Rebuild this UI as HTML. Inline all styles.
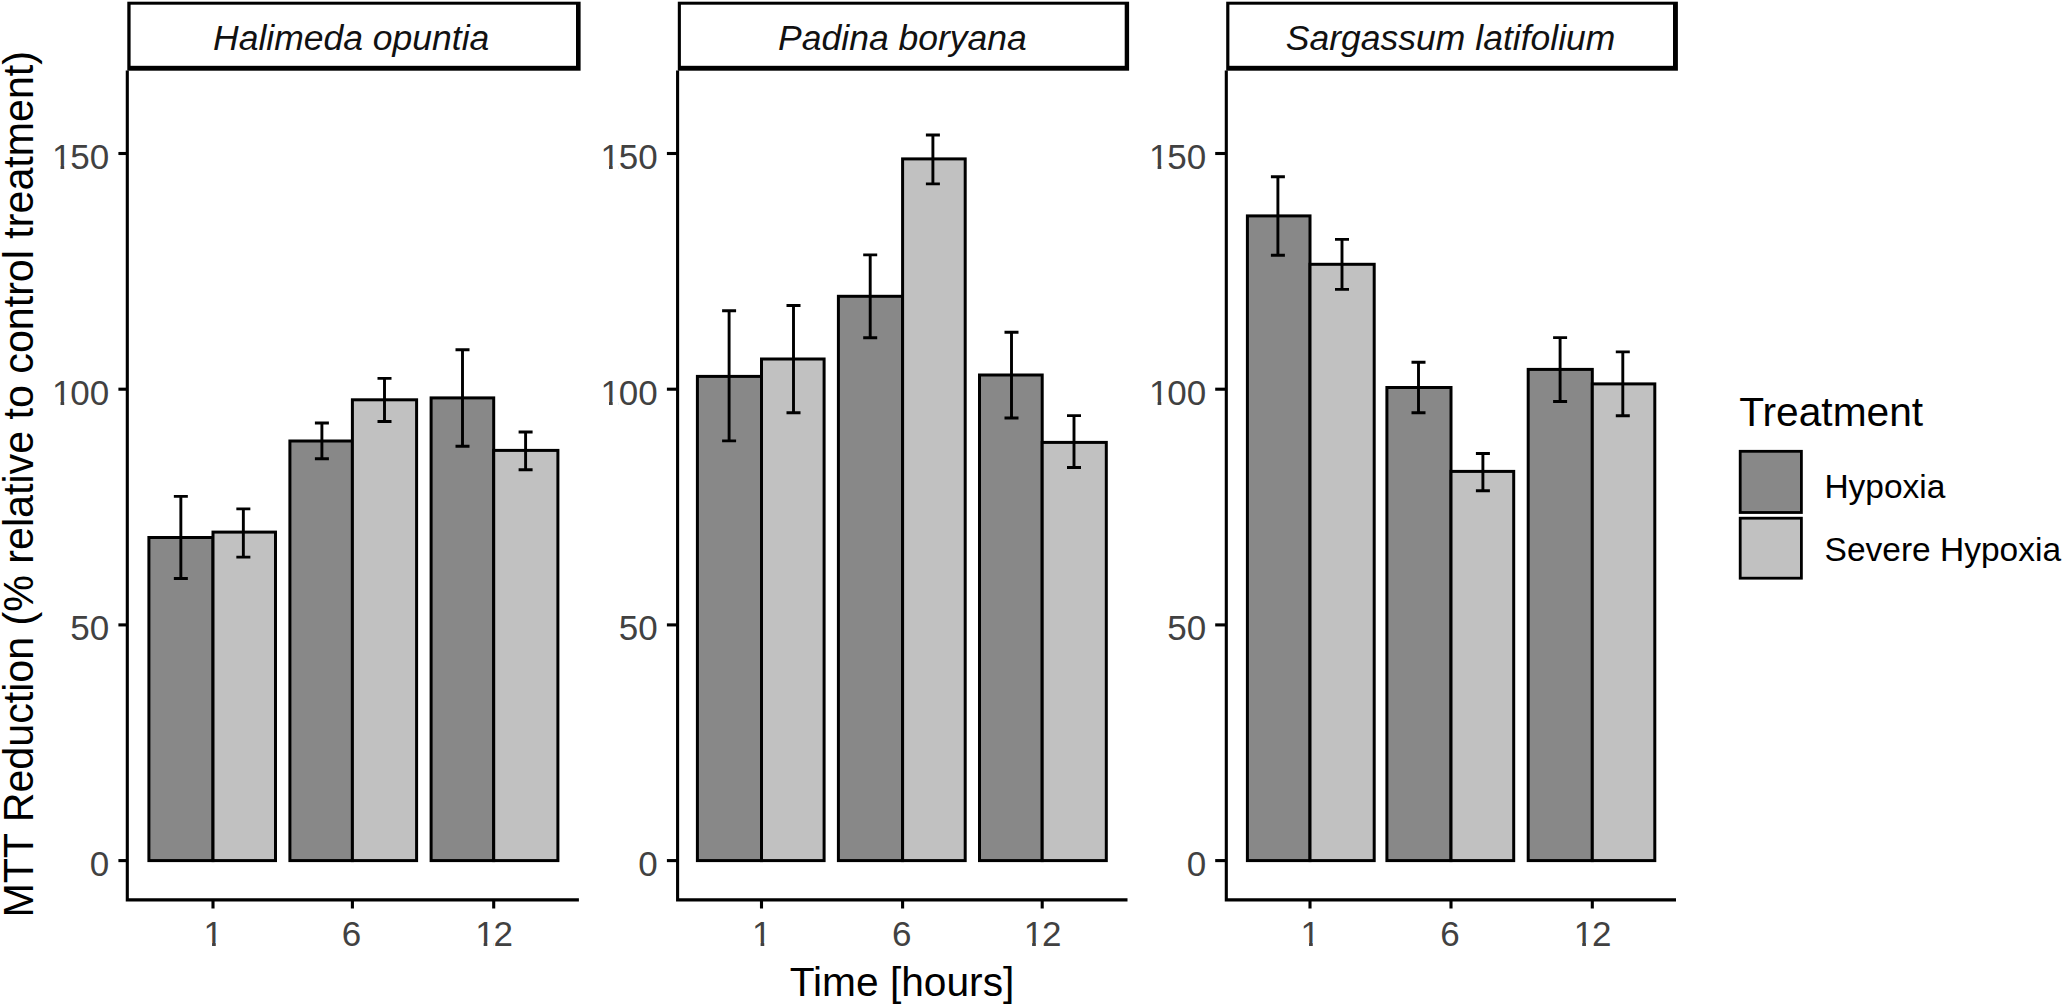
<!DOCTYPE html>
<html lang="en"><head><meta charset="utf-8"><title>MTT Reduction</title>
<style>html,body{margin:0;padding:0;background:#fff}svg{display:block}</style></head>
<body>
<svg width="2064" height="1007" viewBox="0 0 2064 1007" font-family="'Liberation Sans', sans-serif">
<rect x="0" y="0" width="2064" height="1007" fill="#ffffff"/>
<g id="panel1">
<rect x="148.90" y="537.50" width="64.10" height="323.10" fill="#888888" stroke="#000" stroke-width="3.0"/>
<rect x="213.00" y="532.10" width="62.50" height="328.50" fill="#c1c1c1" stroke="#000" stroke-width="3.0"/>
<rect x="289.90" y="441.00" width="62.50" height="419.60" fill="#888888" stroke="#000" stroke-width="3.0"/>
<rect x="352.40" y="399.80" width="64.20" height="460.80" fill="#c1c1c1" stroke="#000" stroke-width="3.0"/>
<rect x="431.10" y="397.90" width="62.60" height="462.70" fill="#888888" stroke="#000" stroke-width="3.0"/>
<rect x="493.70" y="450.40" width="64.20" height="410.20" fill="#c1c1c1" stroke="#000" stroke-width="3.0"/>
<path d="M173.85 496.40H187.85M173.85 578.50H187.85M180.85 496.40V578.50" fill="none" stroke="#000" stroke-width="2.9"/>
<path d="M236.35 508.90H250.35M236.35 557.10H250.35M243.35 508.90V557.10" fill="none" stroke="#000" stroke-width="2.9"/>
<path d="M314.90 423.00H328.90M314.90 458.70H328.90M321.90 423.00V458.70" fill="none" stroke="#000" stroke-width="2.9"/>
<path d="M377.50 378.40H391.50M377.50 421.50H391.50M384.50 378.40V421.50" fill="none" stroke="#000" stroke-width="2.9"/>
<path d="M455.50 349.80H469.50M455.50 446.30H469.50M462.50 349.80V446.30" fill="none" stroke="#000" stroke-width="2.9"/>
<path d="M518.60 432.00H532.60M518.60 469.70H532.60M525.60 432.00V469.70" fill="none" stroke="#000" stroke-width="2.9"/>
<path d="M127.30 70.4V901.45M125.75 899.90H578.90" fill="none" stroke="#000" stroke-width="3.1"/>
<path d="M118.40 860.60H127.30" stroke="#000" stroke-width="3.1" fill="none"/>
<text x="89.73" y="876.10" font-size="35.0" fill="#414141">0</text>
<path d="M118.40 624.90H127.30" stroke="#000" stroke-width="3.1" fill="none"/>
<text x="70.27" y="640.40" font-size="35.0" fill="#414141">50</text>
<path d="M118.40 389.20H127.30" stroke="#000" stroke-width="3.1" fill="none"/>
<clipPath id="c1"><rect x="49.80" y="369.70" width="61.40" height="31.49"/><rect x="60.51" y="398.70" width="3.69" height="7"/><rect x="70.27" y="398.70" width="40.93" height="8"/></clipPath>
<text x="50.80" y="404.70" dx="1.2 -1.2" font-size="35.0" fill="#414141" clip-path="url(#c1)">100</text>
<path d="M118.40 153.50H127.30" stroke="#000" stroke-width="3.1" fill="none"/>
<clipPath id="c2"><rect x="49.80" y="134.00" width="61.40" height="31.49"/><rect x="60.51" y="163.00" width="3.69" height="7"/><rect x="70.27" y="163.00" width="40.93" height="8"/></clipPath>
<text x="50.80" y="169.00" dx="1.2 -1.2" font-size="35.0" fill="#414141" clip-path="url(#c2)">150</text>
<path d="M213.00 899.90V908.5" stroke="#000" stroke-width="3.1" fill="none"/>
<clipPath id="c3"><rect x="201.37" y="911.00" width="22.47" height="31.49"/><rect x="212.07" y="940.00" width="3.69" height="7"/></clipPath>
<text x="202.37" y="946.00" dx="1.2" font-size="35.0" fill="#414141" clip-path="url(#c3)">1</text>
<path d="M352.40 899.90V908.5" stroke="#000" stroke-width="3.1" fill="none"/>
<text x="341.77" y="946.00" font-size="35.0" fill="#414141">6</text>
<path d="M493.70 899.90V908.5" stroke="#000" stroke-width="3.1" fill="none"/>
<clipPath id="c4"><rect x="472.93" y="911.00" width="41.93" height="31.49"/><rect x="483.64" y="940.00" width="3.69" height="7"/><rect x="493.40" y="940.00" width="21.47" height="8"/></clipPath>
<text x="473.93" y="946.00" dx="1.2 -1.2" font-size="35.0" fill="#414141" clip-path="url(#c4)">12</text>
<rect x="127.3" y="1.7" width="453.30" height="69" fill="#000"/>
<rect x="130.6" y="4.7" width="445.40" height="61.1" fill="#fff"/>
<text x="351.15" y="49.5" font-size="35.5" font-style="italic" text-anchor="middle" fill="#111">Halimeda opuntia</text>
</g>
<g id="panel2">
<rect x="697.40" y="376.40" width="64.10" height="484.20" fill="#888888" stroke="#000" stroke-width="3.0"/>
<rect x="761.50" y="359.00" width="62.60" height="501.60" fill="#c1c1c1" stroke="#000" stroke-width="3.0"/>
<rect x="838.40" y="296.30" width="64.20" height="564.30" fill="#888888" stroke="#000" stroke-width="3.0"/>
<rect x="902.60" y="158.90" width="62.60" height="701.70" fill="#c1c1c1" stroke="#000" stroke-width="3.0"/>
<rect x="979.50" y="375.00" width="62.70" height="485.60" fill="#888888" stroke="#000" stroke-width="3.0"/>
<rect x="1042.20" y="442.40" width="64.10" height="418.20" fill="#c1c1c1" stroke="#000" stroke-width="3.0"/>
<path d="M722.10 310.70H736.10M722.10 440.90H736.10M729.10 310.70V440.90" fill="none" stroke="#000" stroke-width="2.9"/>
<path d="M786.50 305.50H800.50M786.50 412.70H800.50M793.50 305.50V412.70" fill="none" stroke="#000" stroke-width="2.9"/>
<path d="M863.20 254.90H877.20M863.20 337.70H877.20M870.20 254.90V337.70" fill="none" stroke="#000" stroke-width="2.9"/>
<path d="M925.90 135.00H939.90M925.90 183.90H939.90M932.90 135.00V183.90" fill="none" stroke="#000" stroke-width="2.9"/>
<path d="M1004.50 332.20H1018.50M1004.50 418.00H1018.50M1011.50 332.20V418.00" fill="none" stroke="#000" stroke-width="2.9"/>
<path d="M1067.00 415.60H1081.00M1067.00 467.50H1081.00M1074.00 415.60V467.50" fill="none" stroke="#000" stroke-width="2.9"/>
<path d="M677.60 70.4V901.45M676.05 899.90H1127.50" fill="none" stroke="#000" stroke-width="3.1"/>
<path d="M666.90 860.60H677.60" stroke="#000" stroke-width="3.1" fill="none"/>
<text x="638.23" y="876.10" font-size="35.0" fill="#414141">0</text>
<path d="M666.90 624.90H677.60" stroke="#000" stroke-width="3.1" fill="none"/>
<text x="618.77" y="640.40" font-size="35.0" fill="#414141">50</text>
<path d="M666.90 389.20H677.60" stroke="#000" stroke-width="3.1" fill="none"/>
<clipPath id="c5"><rect x="598.30" y="369.70" width="61.40" height="31.49"/><rect x="609.01" y="398.70" width="3.69" height="7"/><rect x="618.77" y="398.70" width="40.93" height="8"/></clipPath>
<text x="599.30" y="404.70" dx="1.2 -1.2" font-size="35.0" fill="#414141" clip-path="url(#c5)">100</text>
<path d="M666.90 153.50H677.60" stroke="#000" stroke-width="3.1" fill="none"/>
<clipPath id="c6"><rect x="598.30" y="134.00" width="61.40" height="31.49"/><rect x="609.01" y="163.00" width="3.69" height="7"/><rect x="618.77" y="163.00" width="40.93" height="8"/></clipPath>
<text x="599.30" y="169.00" dx="1.2 -1.2" font-size="35.0" fill="#414141" clip-path="url(#c6)">150</text>
<path d="M761.50 899.90V908.5" stroke="#000" stroke-width="3.1" fill="none"/>
<clipPath id="c7"><rect x="749.87" y="911.00" width="22.47" height="31.49"/><rect x="760.57" y="940.00" width="3.69" height="7"/></clipPath>
<text x="750.87" y="946.00" dx="1.2" font-size="35.0" fill="#414141" clip-path="url(#c7)">1</text>
<path d="M902.60 899.90V908.5" stroke="#000" stroke-width="3.1" fill="none"/>
<text x="891.97" y="946.00" font-size="35.0" fill="#414141">6</text>
<path d="M1042.20 899.90V908.5" stroke="#000" stroke-width="3.1" fill="none"/>
<clipPath id="c8"><rect x="1021.43" y="911.00" width="41.93" height="31.49"/><rect x="1032.14" y="940.00" width="3.69" height="7"/><rect x="1041.90" y="940.00" width="21.47" height="8"/></clipPath>
<text x="1022.43" y="946.00" dx="1.2 -1.2" font-size="35.0" fill="#414141" clip-path="url(#c8)">12</text>
<rect x="677.8" y="1.7" width="451.30" height="69" fill="#000"/>
<rect x="680.9" y="4.7" width="443.80" height="61.1" fill="#fff"/>
<text x="902.45" y="49.5" font-size="35.5" font-style="italic" text-anchor="middle" fill="#111">Padina boryana</text>
</g>
<g id="panel3">
<rect x="1247.40" y="215.90" width="62.60" height="644.70" fill="#888888" stroke="#000" stroke-width="3.0"/>
<rect x="1310.00" y="264.30" width="64.20" height="596.30" fill="#c1c1c1" stroke="#000" stroke-width="3.0"/>
<rect x="1386.90" y="387.50" width="64.10" height="473.10" fill="#888888" stroke="#000" stroke-width="3.0"/>
<rect x="1451.00" y="471.40" width="62.70" height="389.20" fill="#c1c1c1" stroke="#000" stroke-width="3.0"/>
<rect x="1528.20" y="369.40" width="64.10" height="491.20" fill="#888888" stroke="#000" stroke-width="3.0"/>
<rect x="1592.30" y="383.90" width="62.50" height="476.70" fill="#c1c1c1" stroke="#000" stroke-width="3.0"/>
<path d="M1270.90 176.70H1284.90M1270.90 255.30H1284.90M1277.90 176.70V255.30" fill="none" stroke="#000" stroke-width="2.9"/>
<path d="M1335.00 239.40H1349.00M1335.00 289.40H1349.00M1342.00 239.40V289.40" fill="none" stroke="#000" stroke-width="2.9"/>
<path d="M1411.50 362.20H1425.50M1411.50 412.70H1425.50M1418.50 362.20V412.70" fill="none" stroke="#000" stroke-width="2.9"/>
<path d="M1475.90 453.50H1489.90M1475.90 490.80H1489.90M1482.90 453.50V490.80" fill="none" stroke="#000" stroke-width="2.9"/>
<path d="M1553.10 337.60H1567.10M1553.10 401.50H1567.10M1560.10 337.60V401.50" fill="none" stroke="#000" stroke-width="2.9"/>
<path d="M1615.80 351.90H1629.80M1615.80 415.80H1629.80M1622.80 351.90V415.80" fill="none" stroke="#000" stroke-width="2.9"/>
<path d="M1226.30 70.4V901.45M1224.75 899.90H1676.00" fill="none" stroke="#000" stroke-width="3.1"/>
<path d="M1215.20 860.60H1226.30" stroke="#000" stroke-width="3.1" fill="none"/>
<text x="1186.83" y="876.10" font-size="35.0" fill="#414141">0</text>
<path d="M1215.20 624.90H1226.30" stroke="#000" stroke-width="3.1" fill="none"/>
<text x="1167.37" y="640.40" font-size="35.0" fill="#414141">50</text>
<path d="M1215.20 389.20H1226.30" stroke="#000" stroke-width="3.1" fill="none"/>
<clipPath id="c9"><rect x="1146.90" y="369.70" width="61.40" height="31.49"/><rect x="1157.61" y="398.70" width="3.69" height="7"/><rect x="1167.37" y="398.70" width="40.93" height="8"/></clipPath>
<text x="1147.90" y="404.70" dx="1.2 -1.2" font-size="35.0" fill="#414141" clip-path="url(#c9)">100</text>
<path d="M1215.20 153.50H1226.30" stroke="#000" stroke-width="3.1" fill="none"/>
<clipPath id="c10"><rect x="1146.90" y="134.00" width="61.40" height="31.49"/><rect x="1157.61" y="163.00" width="3.69" height="7"/><rect x="1167.37" y="163.00" width="40.93" height="8"/></clipPath>
<text x="1147.90" y="169.00" dx="1.2 -1.2" font-size="35.0" fill="#414141" clip-path="url(#c10)">150</text>
<path d="M1310.00 899.90V908.5" stroke="#000" stroke-width="3.1" fill="none"/>
<clipPath id="c11"><rect x="1298.37" y="911.00" width="22.47" height="31.49"/><rect x="1309.07" y="940.00" width="3.69" height="7"/></clipPath>
<text x="1299.37" y="946.00" dx="1.2" font-size="35.0" fill="#414141" clip-path="url(#c11)">1</text>
<path d="M1451.00 899.90V908.5" stroke="#000" stroke-width="3.1" fill="none"/>
<text x="1440.37" y="946.00" font-size="35.0" fill="#414141">6</text>
<path d="M1592.30 899.90V908.5" stroke="#000" stroke-width="3.1" fill="none"/>
<clipPath id="c12"><rect x="1571.53" y="911.00" width="41.93" height="31.49"/><rect x="1582.24" y="940.00" width="3.69" height="7"/><rect x="1592.00" y="940.00" width="21.47" height="8"/></clipPath>
<text x="1572.53" y="946.00" dx="1.2 -1.2" font-size="35.0" fill="#414141" clip-path="url(#c12)">12</text>
<rect x="1226.2" y="1.7" width="451.70" height="69" fill="#000"/>
<rect x="1229.4" y="4.7" width="443.60" height="61.1" fill="#fff"/>
<text x="1450.60" y="49.5" font-size="35.5" font-style="italic" text-anchor="middle" fill="#111">Sargassum latifolium</text>
</g>
<text x="902.0" y="995.8" font-size="40.7" text-anchor="middle" fill="#000">Time [hours]</text>
<text transform="translate(32.5 484.3) rotate(-90)" font-size="42.3" textLength="866.6" lengthAdjust="spacingAndGlyphs" text-anchor="middle" fill="#000">MTT Reduction (% relative to control treatment)</text>
<text x="1739.2" y="426" font-size="40.7" fill="#000">Treatment</text>
<rect x="1740.2" y="451.3" width="61.2" height="61.2" fill="#888888" stroke="#000" stroke-width="2.8"/>
<rect x="1740.2" y="518.2" width="61.2" height="60.0" fill="#c1c1c1" stroke="#000" stroke-width="2.8"/>
<text x="1824.4" y="497.9" font-size="33.5" fill="#000">Hypoxia</text>
<text x="1824.6" y="561.4" font-size="33.5" fill="#000">Severe Hypoxia</text>
</svg>
</body></html>
